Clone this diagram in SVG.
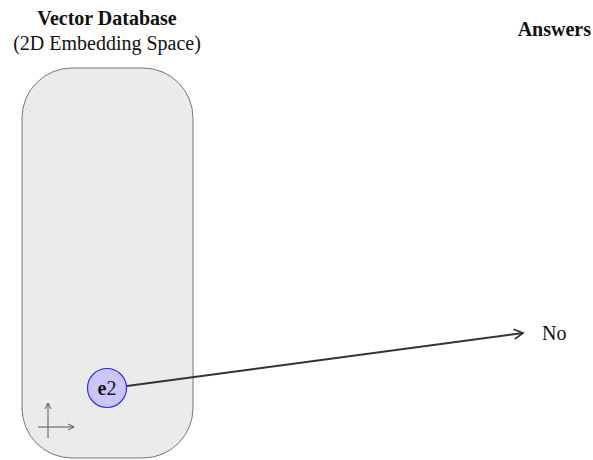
<svg xmlns="http://www.w3.org/2000/svg" width="593" height="460" viewBox="0 0 593 460">
<style>
text{font-family:"Liberation Serif","Times New Roman",serif;fill:#111;font-size:20px}
.b{font-weight:bold}
.ax{stroke:#555;stroke-width:1;fill:none}
</style>
<defs>
<marker id="ah" markerWidth="12" markerHeight="12" refX="10" refY="6" orient="auto" markerUnits="userSpaceOnUse"><path d="M1,1 L10,6 L1,11" fill="none" stroke="#333" stroke-width="1.8"/></marker>
<marker id="sa" markerWidth="8" markerHeight="8" refX="7" refY="4" orient="auto" markerUnits="userSpaceOnUse"><path d="M1,1 L7,4 L1,7" fill="none" stroke="#555" stroke-width="1"/></marker>
</defs>
<g id="db">
<rect x="22" y="68" width="171" height="390" rx="50" ry="50" fill="#ebebeb" stroke="#777" stroke-width="1"/>
<text x="107" y="25" text-anchor="middle" class="b">Vector Database</text>
<text x="107" y="50" text-anchor="middle">(2D Embedding Space)</text>
<line class="ax" x1="48" y1="438" x2="48" y2="403" marker-end="url(#sa)"/>
<line class="ax" x1="38" y1="427" x2="74" y2="427" marker-end="url(#sa)"/>
</g>
<g id="connectors">
<line x1="127" y1="386" x2="523" y2="333" stroke="#333" stroke-width="1.8" marker-end="url(#ah)"/>
</g>
<g id="e2">
<circle cx="107" cy="388" r="19.5" fill="#ccc6ff" stroke="#2b2bff" stroke-width="1.2"/>
<text x="107" y="395" font-size="19" text-anchor="middle"><tspan font-weight="bold">e</tspan>2</text>
</g>
<g id="answers">
<text x="591" y="36" text-anchor="end" class="b">Answers</text>
</g>
<g id="no">
<text x="542" y="340">No</text>
</g>
</svg>
